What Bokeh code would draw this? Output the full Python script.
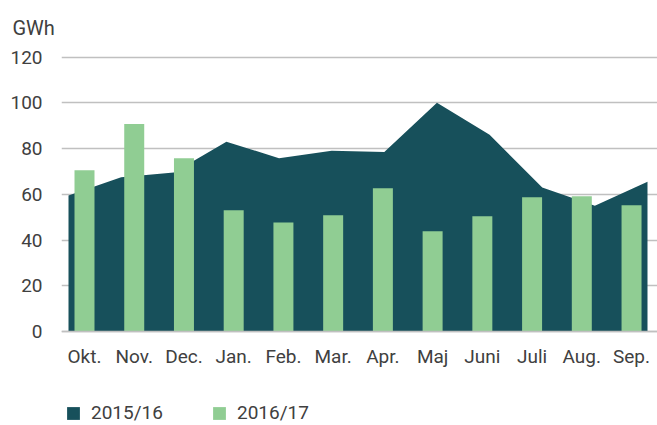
from bokeh.plotting import figure
from bokeh.models import Range1d, FixedTicker, Legend, LegendItem
from bokeh.embed import file_html
from bokeh.resources import INLINE

months = ["Okt.", "Nov.", "Dec.", "Jan.", "Feb.", "Mar.", "Apr.", "Maj", "Juni", "Juli", "Aug.", "Sep."]
season_1516 = [59.5, 67.5, 69.5, 83.0, 75.8, 79.0, 78.5, 100.0, 86.0, 63.0, 55.0, 65.5]
season_1617 = [70.5, 90.7, 75.8, 53.0, 47.7, 50.8, 62.6, 43.8, 50.4, 58.7, 59.1, 55.2]
y_ticks = [0, 20, 40, 60, 80, 100, 120]
series_names = ["2015/16", "2016/17"]
unit = "GWh"

DARK = "#17505b"
GREEN = "#90cd93"
GRID = "#c0c0c0"
TEXT = "#404040"
FONT = "Roboto"

idx = list(range(len(months)))

p = figure(width=657, height=425, output_backend="svg", toolbar_location=None,
           x_range=Range1d(-0.4625, 11.522), y_range=Range1d(-41.1, 122))
p.extra_x_ranges = {"area": Range1d(-0.133, 11.19)}
p.min_border_left = 61
p.min_border_right = 0
p.min_border_top = 52
p.min_border_bottom = 0
p.outline_line_color = None
p.background_fill_color = "white"
p.border_fill_color = "white"

area = p.varea(x=idx, y1=[0] * len(idx), y2=season_1516, x_range_name="area",
               fill_color=DARK, fill_alpha=1.0)
bars = p.vbar(x=idx, top=season_1617, bottom=0, width=0.402, fill_color=GREEN,
              line_color=None)

p.xgrid.visible = False
p.ygrid.ticker = FixedTicker(ticks=y_ticks)
p.ygrid.grid_line_color = GRID
p.ygrid.grid_line_width = 1.5
p.ygrid.level = "underlay"

p.yaxis.ticker = FixedTicker(ticks=y_ticks)
p.yaxis.axis_line_color = None
p.yaxis.major_tick_line_color = None
p.yaxis.minor_tick_line_color = None
p.yaxis.major_label_standoff = 13
p.yaxis.major_label_text_font = FONT
p.yaxis.major_label_text_font_size = "19px"
p.yaxis.major_label_text_color = TEXT

p.xaxis.fixed_location = 0
p.xaxis.ticker = FixedTicker(ticks=idx)
p.xaxis.major_label_overrides = {i: m for i, m in zip(idx, months)}
p.xaxis.axis_line_color = GRID
p.xaxis.axis_line_width = 1.5
p.xaxis.major_tick_line_color = None
p.xaxis.minor_tick_line_color = None
p.xaxis.major_label_standoff = 7
p.xaxis.major_label_text_font = FONT
p.xaxis.major_label_text_font_size = "19px"
p.xaxis.major_label_text_color = TEXT

p.title.text = unit
p.title.align = "left"
p.title.offset = -49
p.title.standoff = 26
p.title.text_font = FONT
p.title.text_font_size = "20px"
p.title.text_font_style = "normal"
p.title.text_color = TEXT

legend = Legend(items=[LegendItem(label=series_names[0], renderers=[area]),
                       LegendItem(label=series_names[1], renderers=[bars])],
                orientation="horizontal", location=(4, 1))
legend.padding = 0
legend.margin = 0
legend.spacing = 46
legend.border_line_color = None
legend.background_fill_alpha = 0
legend.glyph_width = 16
legend.glyph_height = 16
legend.label_height = 16
legend.label_width = 74
legend.label_standoff = 10
legend.label_text_font = FONT
legend.label_text_font_size = "19px"
legend.label_text_color = TEXT
legend.label_text_baseline = "middle"
p.add_layout(legend, "center")

open("out.html", "w").write(file_html(p, INLINE))
